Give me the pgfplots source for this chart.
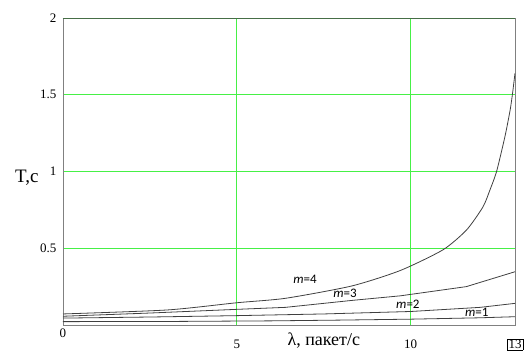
\documentclass[border=0pt]{standalone}
\usepackage{fontspec}
\setmainfont{Liberation Serif}
\newfontfamily\carlito{Carlito}
\usepackage{pgfplots}
\pgfplotsset{compat=1.18}
\definecolor{gridgreen}{RGB}{70,240,70}
\definecolor{topgreen}{RGB}{70,110,70}
\begin{document}
\begin{tikzpicture}
\begin{axis}[
  name=ax, scale only axis, width=452pt, height=307pt,
  xmin=0, xmax=13, ymin=0, ymax=2,
  xtick={0,5,10,13},
  xticklabels={0,\rule{0pt}{20pt}5,\rule{0pt}{20pt}10,\rule{0pt}{20pt}{\fboxsep=1pt\fbox{13}}},
  ytick={0.5,1,1.5,2},
  grid=major, major grid style={gridgreen, line width=0.8pt},
  major tick length=0pt,
  axis line style={gray, line width=0.9pt},
  /pgf/number format/assume math mode=true,
  tick label style={font=\fontsize{13}{13}\selectfont},
  yticklabel style={xshift=-3pt},
  xlabel={λ, пакет/с},
  xlabel style={at={(axis description cs:0.577,0)}, anchor=base, yshift=-20pt, font=\fontsize{18}{18}\selectfont},
  ylabel={T,c},
  ylabel style={at={(axis description cs:-0.08,0.479)}, anchor=center, rotate=-90, font=\fontsize{19}{19}\selectfont},
]
% m=1
\addplot[black!75, line width=0.8pt] coordinates {(0,0.022) (3,0.023) (6,0.027) (8,0.032) (10,0.038) (12,0.047) (13,0.054)};
% m=2
\addplot[black!75, line width=0.8pt] coordinates {(0,0.045) (2.5,0.052) (5,0.061) (7.5,0.072) (10,0.088) (12,0.115) (13,0.141)};
% m=3
\addplot[black!75, line width=0.8pt] coordinates {(0,0.057) (2.5,0.078) (5,0.102) (6.4,0.115) (8.3,0.16) (9.7,0.19) (11.6,0.25) (13,0.347)};
% m=4
\addplot[black!75, line width=0.8pt, smooth, tension=0.4] coordinates {(0,0.072) (3,0.098) (5,0.145) (6.4,0.174) (8.3,0.254) (9.7,0.355) (10.93,0.49) (11.61,0.62) (12.08,0.77) (12.28,0.88) (12.47,1.0) (12.71,1.227) (12.86,1.4) (12.93,1.51) (13,1.64)};
\draw[topgreen, line width=0.9pt] (rel axis cs:0,1) -- (rel axis cs:1,1);
\node[font=\carlito\fontsize{13}{13}\selectfont] at (axis cs:6.96,0.30) {\textit{m}=4};
\node[font=\carlito\fontsize{13}{13}\selectfont] at (axis cs:8.11,0.207) {\textit{m}=3};
\node[font=\carlito\fontsize{13}{13}\selectfont] at (axis cs:9.92,0.137) {\textit{m}=2};
\node[font=\carlito\fontsize{13}{13}\selectfont] at (axis cs:11.9,0.085) {\textit{m}=1};
\coordinate (sw) at (rel axis cs:0,0);
\coordinate (ne) at (rel axis cs:1,1);
\end{axis}
\pgfresetboundingbox
\path ([xshift=-63pt,yshift=-26pt]sw) rectangle ([xshift=10pt,yshift=18pt]ne);
\end{tikzpicture}
\end{document}
